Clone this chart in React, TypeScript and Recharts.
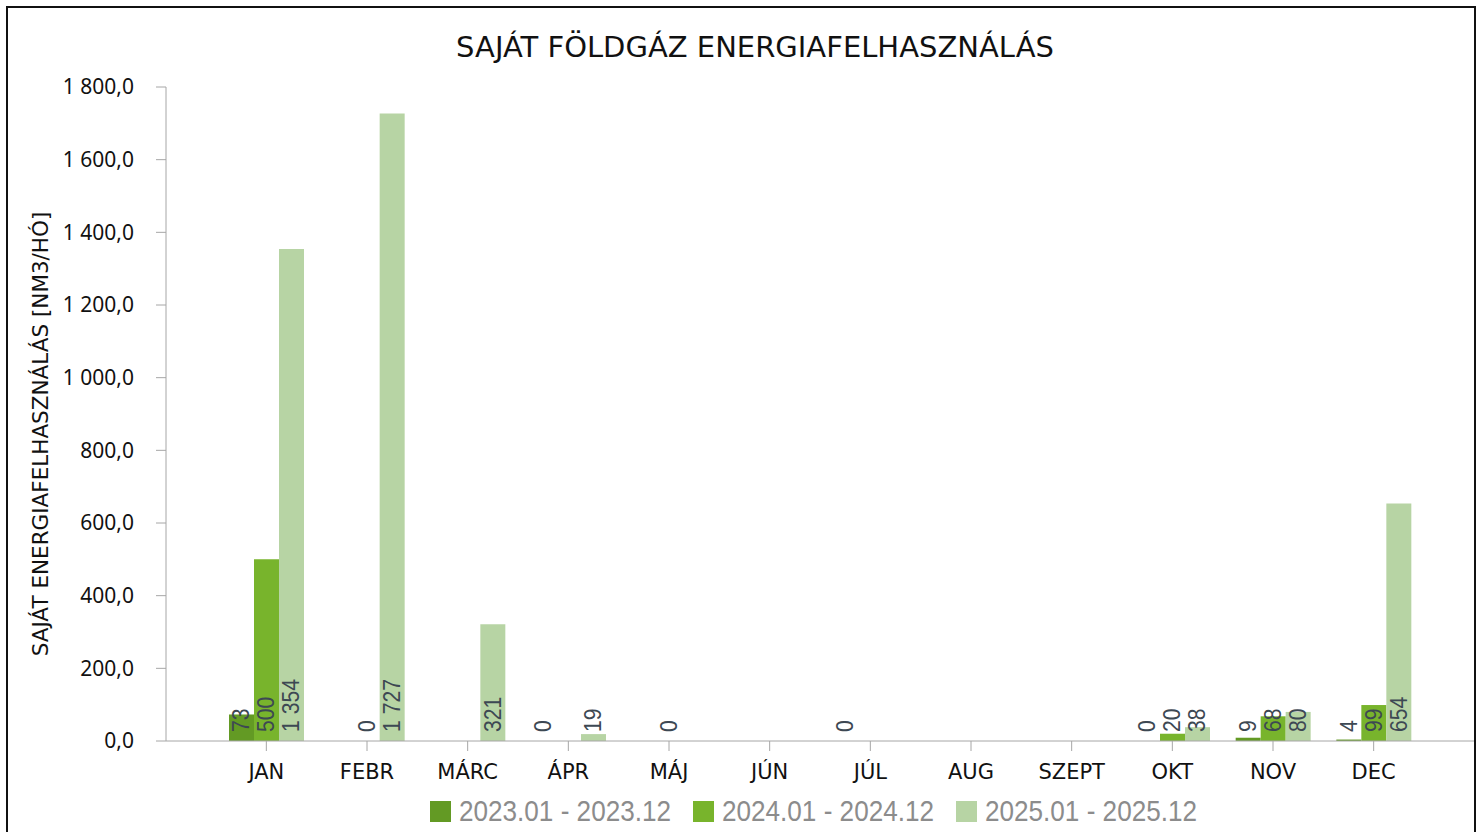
import React from 'react';
import { BarChart, Bar, XAxis, YAxis, Legend, LabelList } from 'recharts';

const months = ['JAN', 'FEBR', 'MÁRC', 'ÁPR', 'MÁJ', 'JÚN', 'JÚL', 'AUG', 'SZEPT', 'OKT', 'NOV', 'DEC'];
const y2023 = [73, null, null, 0, null, null, 0, null, null, 0, 9, 4];
const y2024 = [500, 0, null, null, 0, null, null, null, null, 20, 68, 99];
const y2025 = [1354, 1727, 321, 19, null, null, null, null, null, 38, 80, 654];
const yTicks = [0, 200, 400, 600, 800, 1000, 1200, 1400, 1600, 1800];

const series = [
  { key: 'y2023', name: '2023.01 - 2023.12', color: '#639a24' },
  { key: 'y2024', name: '2024.01 - 2024.12', color: '#78b42c' },
  { key: 'y2025', name: '2025.01 - 2025.12', color: '#b7d4a4' },
];

const data = months.map((m, i) => ({ month: m, y2023: y2023[i], y2024: y2024[i], y2025: y2025[i] }));

const fmtAxis = (v: number) => {
  const s = v.toFixed(1).replace('.', ',');
  const [int, dec] = s.split(',');
  return int.replace(/\B(?=(\d{3})+(?!\d))/g, ' ') + ',' + dec;
};
const fmtLabel = (v: number) => String(v).replace(/\B(?=(\d{3})+(?!\d))/g, ' ');

// zero values still need their label, so give them a hair-thin bar
const zeroMin = (v: any) => (v === 0 ? 0.01 : 0);

const BarLabel = (props: any) => {
  const { x, y, width, height, value } = props;
  if (value === null || value === undefined) return null;
  const cx = Number(x) + Number(width) / 2;
  const base = Number(y) + Math.max(Number(height), 0) - 9;
  return (
    <text
      x={0}
      y={0}
      transform={`translate(${cx} ${base}) rotate(-90) scale(0.92 1)`}
      textAnchor="start"
      dominantBaseline="central"
      fill="#3d4853"
      fontSize={23}
      fontFamily="'Liberation Sans', Arial, sans-serif"
    >
      {fmtLabel(value)}
    </text>
  );
};

const YTitle = (props: any) => {
  const vb = props.viewBox || { x: 0, y: 0, width: 0, height: 0 };
  const x = vb.x + 40;
  const y = vb.y + vb.height / 2 + 20;
  return (
    <text
      x={x}
      y={y}
      transform={`rotate(-90 ${x} ${y})`}
      textAnchor="middle"
      dominantBaseline="central"
      fill="#111"
      fontSize={21.5}
      fontFamily="'DejaVu Sans', sans-serif"
    >
      SAJÁT ENERGIAFELHASZNÁLÁS [NM3/HÓ]
    </text>
  );
};

const LegendContent = () => (
  <div style={{ display: 'flex', justifyContent: 'center', alignItems: 'center', height: 40 }}>
    {series.map((s, i) => (
      <div key={s.key} style={{ display: 'flex', alignItems: 'center', marginRight: i < series.length - 1 ? 21 : 0 }}>
        <span style={{ width: 21, height: 21, background: s.color, display: 'inline-block', marginRight: 8 }} />
        <svg width={213} height={40} style={{ display: 'block', overflow: 'visible' }}>
          <text
            x={0}
            y={19}
            dominantBaseline="central"
            textLength={212}
            lengthAdjust="spacingAndGlyphs"
            fill="#8c8c8c"
            fontSize={30}
            fontFamily="'Liberation Sans', Arial, sans-serif"
          >
            {s.name}
          </text>
        </svg>
      </div>
    ))}
  </div>
);

export default function App() {
  return (
    <div style={{ position: 'absolute', left: 0, top: 0, width: 1481, height: 832, background: '#fff', overflow: 'hidden' }}>
      <div
        style={{
          position: 'absolute',
          left: 6,
          top: 6,
          width: 1466,
          height: 840,
          border: '2px solid #111',
        }}
      />
      <div
        style={{
          position: 'absolute',
          left: 0,
          top: 28,
          width: 1510,
          textAlign: 'center',
          fontSize: 29,
          fontFamily: "'DejaVu Sans', sans-serif",
          color: '#111',
          lineHeight: '38px',
        }}
      >
        SAJÁT FÖLDGÁZ ENERGIAFELHASZNÁLÁS
      </div>
      <div style={{ position: 'absolute', left: 0, top: 0 }}>
        <BarChart
          width={1474}
          height={832}
          data={data}
          margin={{ top: 87, right: 0, bottom: 1, left: 0 }}
          barGap={0}
          barSize={25}
        >
          <XAxis
            dataKey="month"
            padding={{ left: 50, right: 50 }}
            height={50}
            stroke="#a6a6a6"
            tickSize={10}
            tickMargin={13}
            tick={{ fill: '#111', fontSize: 21, fontFamily: "'DejaVu Sans', sans-serif" }}
          />
          <YAxis
            width={166}
            domain={[0, 1800]}
            ticks={yTicks}
            interval={0}
            stroke="#a6a6a6"
            tickSize={10}
            tickMargin={22}
            tickFormatter={fmtAxis}
            tick={{ fill: '#111', fontSize: 21, fontFamily: "'Noto Sans', sans-serif" }}
            label={{ content: YTitle }}
          />
          <Legend
            verticalAlign="bottom"
            height={40}
            content={LegendContent}
            wrapperStyle={{ left: 160, width: 1308 }}
          />
          {series.map((s) => (
            <Bar
              key={s.key}
              dataKey={s.key}
              name={s.name}
              fill={s.color}
              minPointSize={zeroMin}
              isAnimationActive={false}
            >
              <LabelList dataKey={s.key} content={BarLabel} />
            </Bar>
          ))}
        </BarChart>
      </div>
    </div>
  );
}
